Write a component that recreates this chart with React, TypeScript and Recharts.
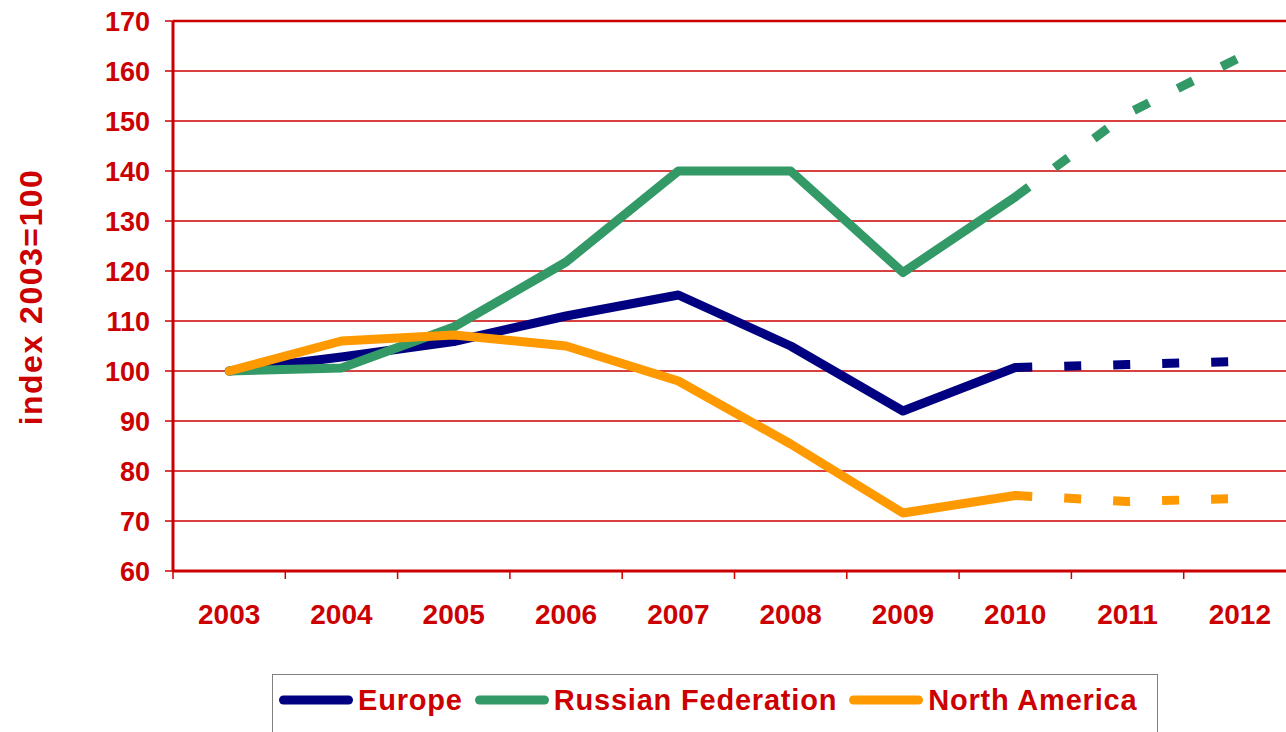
import * as React from 'react'
import { CartesianGrid, Line, LineChart, ReferenceLine, XAxis, YAxis } from 'recharts'

const years = ['2003', '2004', '2005', '2006', '2007', '2008', '2009', '2010', '2011', '2012']
const europe = [100, 102.8, 105.9, 111, 115.2, 105, 92, 100.7, null, null]
const europeForecast = [null, null, null, null, null, null, null, 100.7, 101.3, 101.9]
const russia = [100, 100.6, 108.8, 121.8, 140, 140, 119.7, 134.8, null, null]
const russiaForecast = [null, null, null, null, null, null, null, 134.8, 151.5, 162.7]
const northAmerica = [100, 106, 107.2, 105, 98, 85.4, 71.6, 75.1, null, null]
const northAmericaForecast = [null, null, null, null, null, null, null, 75.1, 73.9, 74.5]
const yTicks = [60, 70, 80, 90, 100, 110, 120, 130, 140, 150, 160, 170]

const series = [
  { name: 'Europe', key: 'europe', color: '#000080' },
  { name: 'Russian Federation', key: 'russia', color: '#339966' },
  { name: 'North America', key: 'northAmerica', color: '#FF9900' },
]

const data = years.map((year, i) => ({
  year,
  europe: europe[i],
  europeF: europeForecast[i],
  russia: russia[i],
  russiaF: russiaForecast[i],
  northAmerica: northAmerica[i],
  northAmericaF: northAmericaForecast[i],
}))

const RED = '#CC0000'
const FONT = '"Liberation Sans", Arial, sans-serif'
const CHART_W = 1300
const CHART_H = 732
const Y_W = 173
const MARGIN = { top: 21, right: 4, left: 0, bottom: 0 }
const HALF_BAND = (CHART_W - MARGIN.left - MARGIN.right - Y_W) / years.length / 2

// category ticks: label at the centre, tick mark on the band boundary
function YearTick(props: any) {
  const { x, y, payload } = props
  const bx = x - HALF_BAND
  return (
    <g>
      <line x1={bx} x2={bx} y1={y - 10} y2={y - 2} stroke={RED} strokeWidth={1.5} />
      <text x={x} y={y + 43} textAnchor="middle" fill={RED} fontSize={28} fontWeight="bold" fontFamily={FONT}>
        {payload.value}
      </text>
    </g>
  )
}

function AxisTitle() {
  return (
    <text
      x={31}
      y={297}
      transform="rotate(-90, 31, 297)"
      textAnchor="middle"
      dominantBaseline="central"
      fill={RED}
      fontSize={32}
      fontWeight="bold"
      fontFamily={FONT}
      letterSpacing={1.5}
    >
      index 2003=100
    </text>
  )
}

function LegendBox() {
  return (
    <div
      style={{
        position: 'absolute',
        left: 272,
        top: 674,
        width: 886,
        height: 90,
        border: '1px solid #808080',
        boxSizing: 'border-box',
        paddingLeft: 6,
        paddingTop: 8,
        display: 'flex',
        alignItems: 'flex-start',
        fontFamily: FONT,
        fontWeight: 'bold',
        fontSize: 29,
        letterSpacing: 0.8,
        color: RED,
      }}
    >
      {series.map((s) => (
        <div key={s.key} style={{ display: 'flex', alignItems: 'center', height: 34, marginRight: 12 }}>
          <svg width={74} height={12} style={{ marginRight: 5 }}>
            <line x1={4.5} x2={69.5} y1={6} y2={6} stroke={s.color} strokeWidth={9} strokeLinecap="round" />
          </svg>
          <span style={{ lineHeight: '34px' }}>{s.name}</span>
        </div>
      ))}
    </div>
  )
}

export default function App() {
  return (
    <div
      style={{
        position: 'absolute',
        left: 0,
        top: 0,
        width: 1286,
        height: 732,
        overflow: 'hidden',
        background: '#fff',
      }}
    >
      <LineChart width={CHART_W} height={CHART_H} data={data} margin={MARGIN}>
        <CartesianGrid vertical={false} stroke={RED} strokeWidth={1.3} />
        <XAxis
          dataKey="year"
          height={CHART_H - 571}
          padding={{ left: HALF_BAND, right: HALF_BAND }}
          axisLine={{ stroke: RED, strokeWidth: 3 }}
          tickLine={false}
          tickSize={8}
          tickMargin={2}
          interval={0}
          tick={<YearTick />}
        />
        <YAxis
          width={Y_W}
          domain={[60, 170]}
          ticks={yTicks}
          interval={0}
          axisLine={{ stroke: RED, strokeWidth: 3 }}
          tickLine={{ stroke: RED, strokeWidth: 1.5 }}
          tickSize={8}
          tickMargin={15}
          tick={{ fill: RED, fontSize: 27, fontWeight: 'bold', fontFamily: FONT }}
          label={{ content: () => <AxisTitle /> }}
        />
        <ReferenceLine y={170} stroke={RED} strokeWidth={2.5} />
        {series.map((s) => (
          <Line
            key={s.key}
            type="linear"
            dataKey={s.key}
            stroke={s.color}
            strokeWidth={9}
            strokeLinecap="round"
            strokeLinejoin="round"
            dot={false}
            activeDot={false}
            isAnimationActive={false}
          />
        ))}
        {series.map((s) => (
          <Line
            key={s.key + 'F'}
            type="linear"
            dataKey={s.key + 'F'}
            stroke={s.color}
            strokeWidth={9}
            strokeDasharray="17 32"
            strokeLinecap="butt"
            dot={false}
            activeDot={false}
            isAnimationActive={false}
          />
        ))}
      </LineChart>
      <LegendBox />
    </div>
  )
}
